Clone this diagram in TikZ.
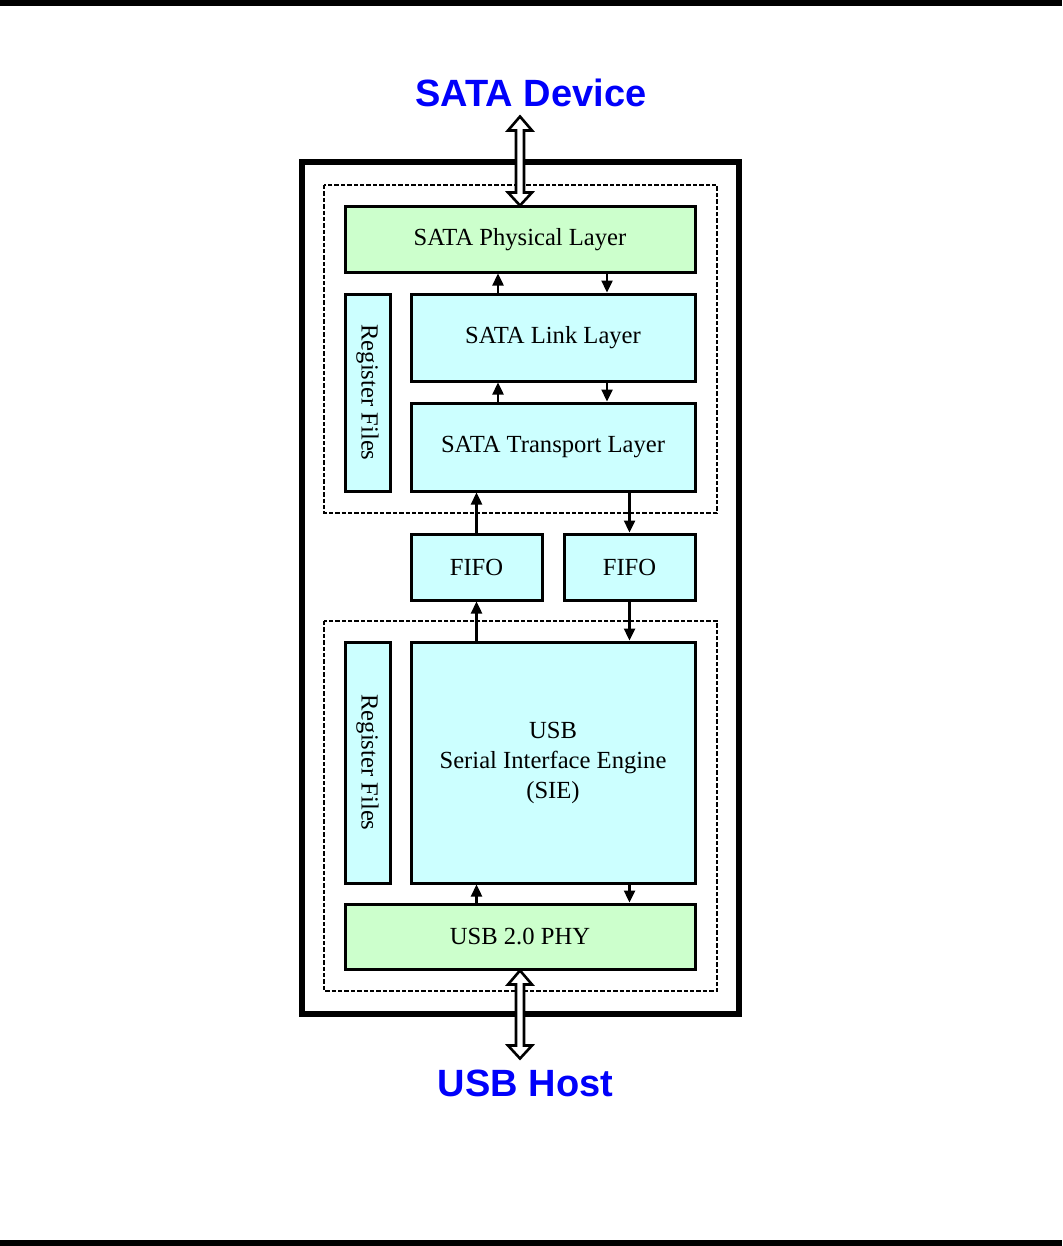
\documentclass[tikz,border=0pt]{standalone}
\usepackage{fontspec}
\setmainfont{Liberation Serif}
\newfontfamily\headfont{Liberation Sans}
\usetikzlibrary{arrows.meta,calc}

\definecolor{phygreen}{RGB}{204,255,204}
\definecolor{layercyan}{RGB}{204,255,255}
\definecolor{portblue}{RGB}{0,0,250}

% hollow two-headed bus arrow from #1 (upper tip) to #2 (lower tip)
\newcommand{\busarrow}[2]{%
  \draw[bus] (#1) -- ($(#1)+(12,14)$) -- ($(#1)+(4,14)$) -- ($(#2)+(4,-13)$)
    -- ($(#2)+(12,-13)$) -- (#2) -- ($(#2)+(-12,-13)$) -- ($(#2)+(-4,-13)$)
    -- ($(#1)+(-4,14)$) -- ($(#1)+(-12,14)$) -- cycle;}

\begin{document}
\begin{tikzpicture}[x=0.5pt, y=-0.5pt,
  block/.style={draw, line width=1.5pt, inner sep=0pt, align=center,
                font=\fontsize{12.3}{15}\selectfont},
  layer/.style={block, fill=layercyan},
  phyblock/.style={block, fill=phygreen},
  flow/.style={line width=1.2pt, -{Triangle[length=6pt,width=5.5pt]}},
  bus/.style={line width=1.3pt, fill=white, line join=miter},
  group/.style={line width=1pt, dash pattern=on 2.2pt off 1pt},
  port/.style={font=\headfont\bfseries\fontsize{19}{22}\selectfont, text=portblue}]
  \useasboundingbox (0,0) rectangle (1062,1246);

  % 1. page rules
  \fill (0,0) rectangle (1062,6);
  \fill (0,1240) rectangle (1062,1246);

  % 2. bridge chip and the two groups
  \draw[line width=2.8pt] (302,162) rectangle (739,1014);
  \draw[group] (324,185) rectangle (717,513);
  \draw[group] (324,621) rectangle (717,991);

  % 3. SATA side
  \node[phyblock, minimum width=175pt, minimum height=32.5pt] (sataphy) at (520,239.5) {SATA Physical Layer};
  \node[layer, minimum width=142pt, minimum height=43.5pt] (link) at (553,337.5) {SATA Link Layer};
  \node[layer, minimum width=142pt, minimum height=44pt] (transport) at (553,447) {SATA Transport Layer};
  \node[layer, rotate=-90, minimum width=98.5pt, minimum height=22.5pt] (regsata) at (367.5,392.5) {Register Files};

  % 4. FIFOs
  \node[layer, minimum width=65.5pt, minimum height=33pt] (fifoup) at (476.5,567) {FIFO};
  \node[layer, minimum width=65.5pt, minimum height=33pt] (fifodown) at (629.5,567) {FIFO};

  % 5. USB side
  \node[layer, minimum width=142pt, minimum height=120.5pt] (sie) at (553,762.5) {USB\\Serial Interface Engine\\(SIE)};
  \node[layer, rotate=-90, minimum width=120.5pt, minimum height=22.5pt] (regusb) at (367.5,762.5) {Register Files};
  \node[phyblock, minimum width=175pt, minimum height=32.5pt] (usbphy) at (520,936.5) {USB 2.0 PHY};

  % 6. data flow
  \coordinate (upcol) at (498,0);
  \coordinate (downcol) at (607,0);
  \draw[flow] (link.north -| upcol) -- (sataphy.south -| upcol);
  \draw[flow] (sataphy.south -| downcol) -- (link.north -| downcol);
  \draw[flow] (transport.north -| upcol) -- (link.south -| upcol);
  \draw[flow] (link.south -| downcol) -- (transport.north -| downcol);
  \draw[flow] (fifoup.north) -- (transport.south -| fifoup.north);
  \draw[flow] (transport.south -| fifodown.north) -- (fifodown.north);
  \draw[flow] (sie.north -| fifoup.south) -- (fifoup.south);
  \draw[flow] (fifodown.south) -- (sie.north -| fifodown.south);
  \draw[flow] (usbphy.north -| fifoup.south) -- (sie.south -| fifoup.south);
  \draw[flow] (sie.south -| fifodown.south) -- (usbphy.north -| fifodown.south);

  % 7. external ports
  \node[port] (device) at (531,93) {SATA Device};
  \node[port] (host) at (525.5,1083) {USB Host};
  \coordinate (devport) at ($(sataphy.north)+(0,-89)$);
  \coordinate (hostport) at ($(usbphy.south)+(0,88)$);
  \busarrow{devport}{sataphy.north}
  \busarrow{usbphy.south}{hostport}
\end{tikzpicture}
\end{document}
